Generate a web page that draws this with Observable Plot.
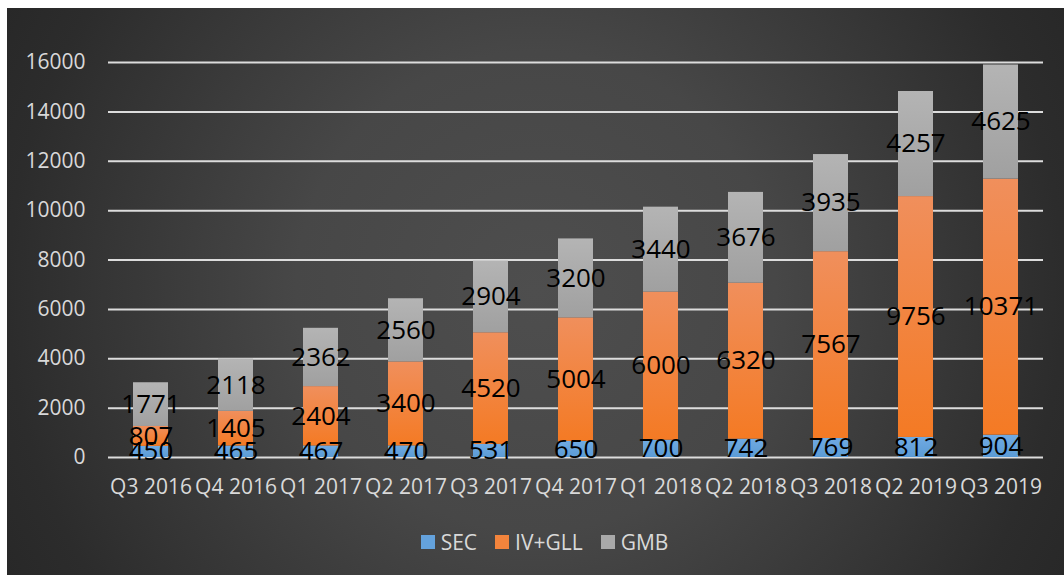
<!DOCTYPE html>
<html>
<head>
<meta charset="utf-8">
<script src="https://cdn.jsdelivr.net/npm/d3@7"></script>
<script src="https://cdn.jsdelivr.net/npm/@observablehq/plot@0.6"></script>
<style>
  html, body { margin: 0; padding: 0; background: #ffffff; }
  #panel {
    position: absolute; left: 7px; top: 8px; width: 1057px; height: 567px;
    background: radial-gradient(circle farthest-corner at 50% 50%, #4e4e4e 0%, #474747 40%, #2c2c2c 88%, #282828 100%);
    font-family: "Open Sans", sans-serif;
  }
  #legend {
    position: absolute; left: 0; top: 522px; width: 100%;
    display: flex; justify-content: center; padding-left: 18px; box-sizing: border-box;
    color: #d9d9d9; font-size: 21px; line-height: 24px;
  }
  .item { display: flex; align-items: center; margin: 0 9px; }
  .swatch { width: 14px; height: 14px; margin-right: 6px; }
</style>
</head>
<body>
<div id="panel"><div id="chart"></div><div id="legend"></div></div>
<script>
// Quarterly totals by segment
const quarters = ["Q3 2016", "Q4 2016", "Q1 2017", "Q2 2017", "Q3 2017", "Q4 2017",
                  "Q1 2018", "Q2 2018", "Q3 2018", "Q2 2019", "Q3 2019"];
const seriesNames = ["SEC", "IV+GLL", "GMB"];
const sec   = [450, 465, 467, 470, 531, 650, 700, 742, 769, 812, 904];
const ivgll = [807, 1405, 2404, 3400, 4520, 5004, 6000, 6320, 7567, 9756, 10371];
const gmb   = [1771, 2118, 2362, 2560, 2904, 3200, 3440, 3676, 3935, 4257, 4625];
const yTicks = [0, 2000, 4000, 6000, 8000, 10000, 12000, 14000, 16000];

// Segment gradients: lighter at the top of each bar piece
const gradients = [
  {id: "gSEC", top: "#70aae2", bottom: "#5b9bd5", swatch: "#64a2dc"},
  {id: "gIV",  top: "#f08f5c", bottom: "#f47a24", swatch: "#f3843c"},
  {id: "gGMB", top: "#b4b4b4", bottom: "#a0a0a0", swatch: "#a9a9a9"}
];

const rows = [];
quarters.forEach((q, i) => {
  rows.push({quarter: q, series: "SEC", value: sec[i]});
  rows.push({quarter: q, series: "IV+GLL", value: ivgll[i]});
  rows.push({quarter: q, series: "GMB", value: gmb[i]});
});

const chart = Plot.plot({
  width: 1057,
  height: 505,
  marginTop: 54,
  marginBottom: 56,
  marginLeft: 101,
  marginRight: 21,
  style: {fontFamily: "Open Sans, sans-serif", background: "transparent", overflow: "visible"},
  x: {domain: quarters, paddingInner: 0.59, paddingOuter: 0.295, label: null},
  y: {domain: [0, 16000], label: null},
  color: {domain: seriesNames, range: gradients.map(g => `url(#${g.id})`)},
  marks: [
    Plot.ruleY(yTicks, {stroke: "#dcdcdc", strokeWidth: 2}),
    Plot.barY(rows, Plot.stackY({x: "quarter", y: "value", z: "series", fill: "series"})),
    Plot.text(rows, Plot.stackY({x: "quarter", y: "value", z: "series", text: d => String(d.value),
      fill: "#000000", fontSize: 26})),
    Plot.axisY(yTicks, {tickSize: 0, tickPadding: 23, fontSize: 21, fill: "#d9d9d9", label: null,
      tickFormat: d => String(d)}),
    Plot.axisX({tickSize: 0, tickPadding: 22, fontSize: 21, fill: "#d9d9d9", label: null})
  ]
});

// Vertical gradient definitions used by the bar fills
const defs = d3.select(chart).insert("defs", ":first-child");
gradients.forEach(g => {
  const lg = defs.append("linearGradient").attr("id", g.id)
    .attr("x1", 0).attr("y1", 0).attr("x2", 0).attr("y2", 1);
  lg.append("stop").attr("offset", "0%").attr("stop-color", g.top);
  lg.append("stop").attr("offset", "100%").attr("stop-color", g.bottom);
});

document.getElementById("chart").appendChild(chart);

// Legend below the plot
const legend = d3.select("#legend");
seriesNames.forEach((name, i) => {
  const item = legend.append("div").attr("class", "item");
  item.append("div").attr("class", "swatch").style("background", gradients[i].swatch);
  item.append("span").text(name);
});
</script>
</body>
</html>
